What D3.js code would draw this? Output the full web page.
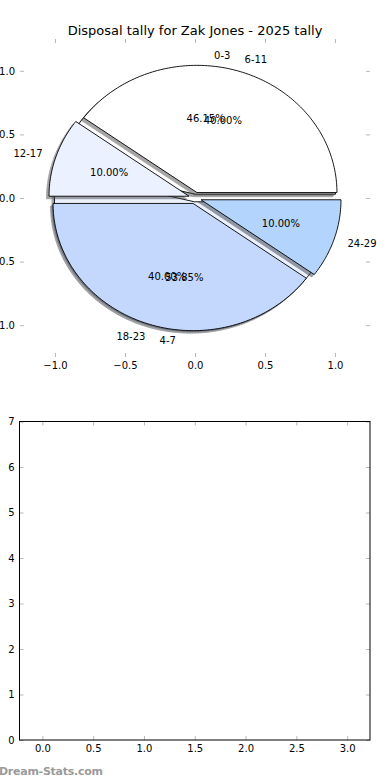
<!DOCTYPE html>
<html>
<head>
<meta charset="utf-8">
<script src="https://cdn.jsdelivr.net/npm/d3@7"></script>
<style>
  body { margin: 0; background: #fff; }
  text { font-family: "DejaVu Sans", sans-serif; }
</style>
</head>
<body>
<div id="viz"></div>
<script>
(function() {

    var width = 390;
    var height = 780;

    var title = "Disposal tally for Zak Jones - 2025 tally";

    // first pie (drawn underneath)
    var innerLabels = ["0-3", "4-7"];
    var innerValues = [6, 7];
    var innerExplode = [0.03, 0.03];

    // second pie (drawn on top)
    var outerLabels = ["6-11", "12-17", "18-23", "24-29"];
    var outerValues = [4, 1, 4, 1];
    var outerExplode = [0.045, 0.045, 0.045, 0.045];

    var sliceColors = ["#ffffff", "#ebf1fe", "#c4d8fe", "#b3d5fd"];

    var pieTicks = [-1.0, -0.5, 0.0, 0.5, 1.0];
    var lowerXTicks = [0.0, 0.5, 1.0, 1.5, 2.0, 2.5, 3.0];
    var lowerYTicks = [0, 1, 2, 3, 4, 5, 6, 7];

    var svg = d3.select("#viz")
        .append("svg")
        .attr("width", width)
        .attr("height", height)

    //Scales for the pie panel (not equal aspect, so the pie is an ellipse)
    var px = d3.scaleLinear().domain([-1.25, 1.25]).range([20, 370])
    var py = d3.scaleLinear().domain([-1.25, 1.25]).range([357, 39])

    var top = svg.append("g")

    var line = d3.line()
        .x(function(p) { return px(p[0]) })
        .y(function(p) { return py(p[1]) })

    //Wedge outline in data units, angles counter-clockwise from 3 o'clock
    function wedgePath(cx, cy, t1, t2) {
        var n = Math.max(2, Math.ceil((t2 - t1) / 0.02))
        var pts = [[cx, cy]]
        for (var i = 0; i <= n; i++) {
            var t = t1 + (t2 - t1) * i / n
            pts.push([cx + Math.cos(t), cy + Math.sin(t)])
        }
        return line(pts) + "Z"
    }

    var pie = d3.pie().sort(null).startAngle(0).endAngle(2 * Math.PI)

    function shadowColor(c) {
        var rgb = d3.rgb(c)
        return d3.rgb(rgb.r * 0.3, rgb.g * 0.3, rgb.b * 0.3).toString()
    }

    function layout(values, labels, explode) {
        return pie(values).map(function(d, i) {
            var mid = (d.startAngle + d.endAngle) / 2
            return {
                t1: d.startAngle,
                t2: d.endAngle,
                mid: mid,
                cx: explode[i] * Math.cos(mid),
                cy: explode[i] * Math.sin(mid),
                label: labels[i],
                pct: (d.value / d3.sum(values) * 100).toFixed(2) + "%",
                color: sliceColors[i % sliceColors.length]
            }
        })
    }

    var innerSlices = layout(innerValues, innerLabels, innerExplode)
    var outerSlices = layout(outerValues, outerLabels, outerExplode)

    function drawWedges(slices) {
        slices.forEach(function(s) {
            top.append("path")
                .attr("d", wedgePath(s.cx, s.cy, s.t1, s.t2))
                .attr("transform", "translate(-2.5,2.5)")
                .attr("fill", shadowColor(s.color))
                .attr("stroke", shadowColor(s.color))
                .attr("stroke-width", 0.9)
                .attr("opacity", 0.5)
            top.append("path")
                .attr("d", wedgePath(s.cx, s.cy, s.t1, s.t2))
                .attr("fill", s.color)
                .attr("stroke", "#000")
                .attr("stroke-width", 0.9)
                .attr("stroke-linejoin", "miter")
        })
    }

    function drawTexts(slices) {
        slices.forEach(function(s) {
            var lx = s.cx + 1.1 * Math.cos(s.mid)
            var ly = s.cy + 1.1 * Math.sin(s.mid)
            top.append("text")
                .attr("x", px(lx))
                .attr("y", py(ly))
                .attr("dy", "0.36em")
                .attr("text-anchor", lx > 0 ? "start" : "end")
                .attr("font-size", "10px")
                .text(s.label)
            top.append("text")
                .attr("x", px(s.cx + 0.6 * Math.cos(s.mid)))
                .attr("y", py(s.cy + 0.6 * Math.sin(s.mid)))
                .attr("dy", "0.36em")
                .attr("text-anchor", "middle")
                .attr("font-size", "10px")
                .text(s.pct)
        })
    }

    drawWedges(innerSlices)
    drawWedges(outerSlices)
    drawTexts(innerSlices)
    drawTexts(outerSlices)

    //Ticks all round, pointing inward, no frame
    var fmt = d3.format(".1f")
    function styleAxis(g) {
        g.select(".domain").remove()
        g.selectAll(".tick line").attr("stroke", "#b8b8b8")
        g.selectAll(".tick text").attr("fill", "#000").attr("font-size", "10px")
            .attr("font-family", "DejaVu Sans")
    }

    top.append("g").attr("transform", "translate(0,357)")
        .call(d3.axisBottom(px).tickValues(pieTicks).tickFormat(fmt).tickSize(-4).tickPadding(5))
        .call(styleAxis)
    top.append("g").attr("transform", "translate(0,39)")
        .call(d3.axisTop(px).tickValues(pieTicks).tickFormat("").tickSize(-4))
        .call(styleAxis)
    top.append("g").attr("transform", "translate(20,0)")
        .call(d3.axisLeft(py).tickValues(pieTicks).tickFormat(fmt).tickSize(-4).tickPadding(5))
        .call(styleAxis)
    top.append("g").attr("transform", "translate(370,0)")
        .call(d3.axisRight(py).tickValues(pieTicks).tickFormat("").tickSize(-4))
        .call(styleAxis)

    svg.append("text")
        .attr("x", 195)
        .attr("y", 34.5)
        .attr("text-anchor", "middle")
        .attr("font-size", "13px")
        .text(title)

    //Empty lower panel
    var bx = d3.scaleLinear().domain([-0.225, 3.225]).range([19.5, 370])
    var by = d3.scaleLinear().domain([0, 7]).range([740, 421.5])

    var bottom = svg.append("g")

    bottom.append("g").attr("transform", "translate(0,740)")
        .call(d3.axisBottom(bx).tickValues(lowerXTicks).tickFormat(fmt).tickSize(-4).tickPadding(5))
        .call(styleAxis)
    bottom.append("g").attr("transform", "translate(0,421.5)")
        .call(d3.axisTop(bx).tickValues(lowerXTicks).tickFormat("").tickSize(-4))
        .call(styleAxis)
    bottom.append("g").attr("transform", "translate(19.5,0)")
        .call(d3.axisLeft(by).tickValues(lowerYTicks).tickFormat(d3.format("d")).tickSize(-4).tickPadding(5))
        .call(styleAxis)
    bottom.append("g").attr("transform", "translate(370,0)")
        .call(d3.axisRight(by).tickValues(lowerYTicks).tickFormat("").tickSize(-4))
        .call(styleAxis)

    bottom.append("rect")
        .attr("x", 19.5)
        .attr("y", 421.5)
        .attr("width", 350.5)
        .attr("height", 318.5)
        .attr("fill", "none")
        .attr("stroke", "#000")
        .attr("stroke-width", 1)

    svg.append("text")
        .attr("x", -1)
        .attr("y", 775)
        .attr("font-family", "Open Sans")
        .attr("font-weight", "bold")
        .attr("font-size", "11px")
        .attr("textLength", 104)
        .attr("fill", "#9a9a9a")
        .text("Dream-Stats.com")

})();
</script>
</body>
</html>
